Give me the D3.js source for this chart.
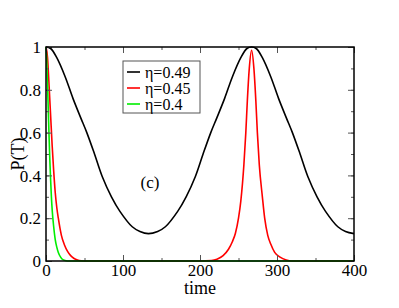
<!DOCTYPE html>
<html><head><meta charset="utf-8">
<script src="https://cdn.jsdelivr.net/npm/d3@7"></script>
<style>body{margin:0;background:#fff}svg{display:block}</style>
</head><body>
<script>
// Data
const seriesNames = ["η=0.49", "η=0.45", "η=0.4"];
const seriesColors = ["#000000", "#ff0000", "#00ee00"];
const blackT = [0,6,14,25,35,45,53,63,73,85,96,112,122,133,145,155,171,182,194,204,214,222,232,242,253,261,267,273,281,292,302,312,320,330,340,352,363,379,389,400];
const blackP = [1,0.993,0.95,0.86,0.76,0.67,0.6,0.5,0.395,0.3,0.232,0.16,0.138,0.128,0.138,0.16,0.232,0.3,0.395,0.5,0.6,0.67,0.76,0.86,0.95,0.993,1,0.993,0.95,0.86,0.76,0.67,0.6,0.5,0.395,0.3,0.232,0.16,0.138,0.128];
const redT = [0,2,4,6,8,10,12,14,16,20,24,28,32,36,40,46,52,200,215,222,230,237,242,246,250,253,257,259.5,261.5,264,267,270,272.5,274.5,277,281,284,288,292,297,304,312,319,400];
const redP = [1,0.95,0.82,0.68,0.54,0.42,0.32,0.25,0.2,0.12,0.075,0.045,0.025,0.013,0.006,0.001,0,0,0.002,0.008,0.025,0.055,0.09,0.13,0.2,0.28,0.45,0.6,0.75,0.9,0.985,0.9,0.75,0.6,0.45,0.3,0.2,0.12,0.078,0.04,0.018,0.005,0,0];
const greenT = [0,1,2,3,4,5,6,7,8,10,12,14,16,19,22,26,30,400];
const greenP = [1,0.93,0.82,0.7,0.58,0.47,0.38,0.3,0.24,0.16,0.1,0.065,0.04,0.018,0.006,0.001,0,0];
const xTicks = [0,100,200,300,400];
const yTicks = [0,0.2,0.4,0.6,0.8,1];
const yTickLabels = ["0","0.2","0.4","0.6","0.8","1"];

const FONT = "Liberation Serif, Times New Roman, serif";
const W = 399, H = 308;
const m = {left:46, right:45, top:47, bottom:47};
const svg = d3.select("body").append("svg").attr("width",W).attr("height",H).attr("font-family",FONT);
const x = d3.scaleLinear().domain([0,400]).range([m.left, W-m.right]);
const y = d3.scaleLinear().domain([0,1]).range([H-m.bottom, m.top]);

const series = [
  {t:blackT, p:blackP, curve:d3.curveCatmullRom.alpha(0.5)},
  {t:redT, p:redP, curve:d3.curveMonotoneX},
  {t:greenT, p:greenP, curve:d3.curveMonotoneX}
];
series.forEach((s,i)=>{
  const line = d3.line().x(d=>x(d[0])).y(d=>y(d[1])).curve(s.curve);
  svg.append("path").datum(s.t.map((t,j)=>[t,s.p[j]]))
    .attr("d",line).attr("fill","none").attr("stroke",seriesColors[i]).attr("stroke-width",1.6);
});

// axes with inward ticks
const xMinor = d3.range(0,401,50), yMinor = d3.range(0,1.001,0.1);
const axes = [];
axes.push(svg.append("g").attr("transform",`translate(0,${y(0)})`)
  .call(d3.axisBottom(x).tickValues(xMinor).tickSize(-3).tickFormat("")));
const gB2 = svg.append("g").attr("transform",`translate(0,${y(0)})`)
  .call(d3.axisBottom(x).tickValues(xTicks).tickSize(-6).tickPadding(2).tickFormat(d3.format("d")));
axes.push(gB2);
axes.push(svg.append("g").attr("transform",`translate(0,${y(1)})`)
  .call(d3.axisTop(x).tickValues(xMinor).tickSize(-3).tickFormat("")));
axes.push(svg.append("g").attr("transform",`translate(0,${y(1)})`)
  .call(d3.axisTop(x).tickValues(xTicks).tickSize(-6).tickFormat("")));
axes.push(svg.append("g").attr("transform",`translate(${x(0)},0)`)
  .call(d3.axisLeft(y).tickValues(yMinor).tickSize(-3).tickFormat("")));
const gL2 = svg.append("g").attr("transform",`translate(${x(0)},0)`)
  .call(d3.axisLeft(y).tickValues(yTicks).tickSize(-6).tickPadding(5).tickFormat((d,i)=>yTickLabels[i]));
axes.push(gL2);
axes.push(svg.append("g").attr("transform",`translate(${x(400)},0)`)
  .call(d3.axisRight(y).tickValues(yMinor).tickSize(-3).tickFormat("")));
axes.push(svg.append("g").attr("transform",`translate(${x(400)},0)`)
  .call(d3.axisRight(y).tickValues(yTicks).tickSize(-6).tickFormat("")));
axes.forEach(g=>g.attr("font-family",FONT).attr("font-size",17));
svg.selectAll(".domain").remove();
svg.selectAll(".tick line").attr("stroke","#555").attr("stroke-width",1);
svg.selectAll(".tick text").attr("fill","#000");
gL2.selectAll(".tick text").attr("dy","0.33em");
gB2.selectAll(".tick text").attr("dy","0.75em");

svg.append("rect").attr("x",x(0)).attr("y",y(1)).attr("width",x(400)-x(0)).attr("height",y(0)-y(1))
  .attr("fill","none").attr("stroke","#000").attr("stroke-width",1.5);

svg.append("text").attr("x",(x(0)+x(400))/2).attr("y",294).attr("text-anchor","middle").attr("font-size",18).text("time");
svg.append("text").attr("transform",`translate(24,${(y(0)+y(1))/2}) rotate(-90)`).attr("text-anchor","middle").attr("font-size",18).text("P(T)");
svg.append("text").attr("x",150).attr("y",188).attr("text-anchor","middle").attr("font-size",17).text("(c)");

// legend
const lg = svg.append("g");
lg.append("rect").attr("x",123).attr("y",61).attr("width",77).attr("height",52)
  .attr("fill","#fff").attr("stroke","#555").attr("stroke-width",1);
seriesNames.forEach((n,i)=>{
  const yy = 72 + i*16;
  lg.append("line").attr("x1",127).attr("x2",140).attr("y1",yy).attr("y2",yy).attr("stroke",seriesColors[i]).attr("stroke-width",1.6);
  lg.append("text").attr("x",145).attr("y",yy).attr("dy","0.35em").attr("font-size",16).text(n);
});
</script>
</body></html>
